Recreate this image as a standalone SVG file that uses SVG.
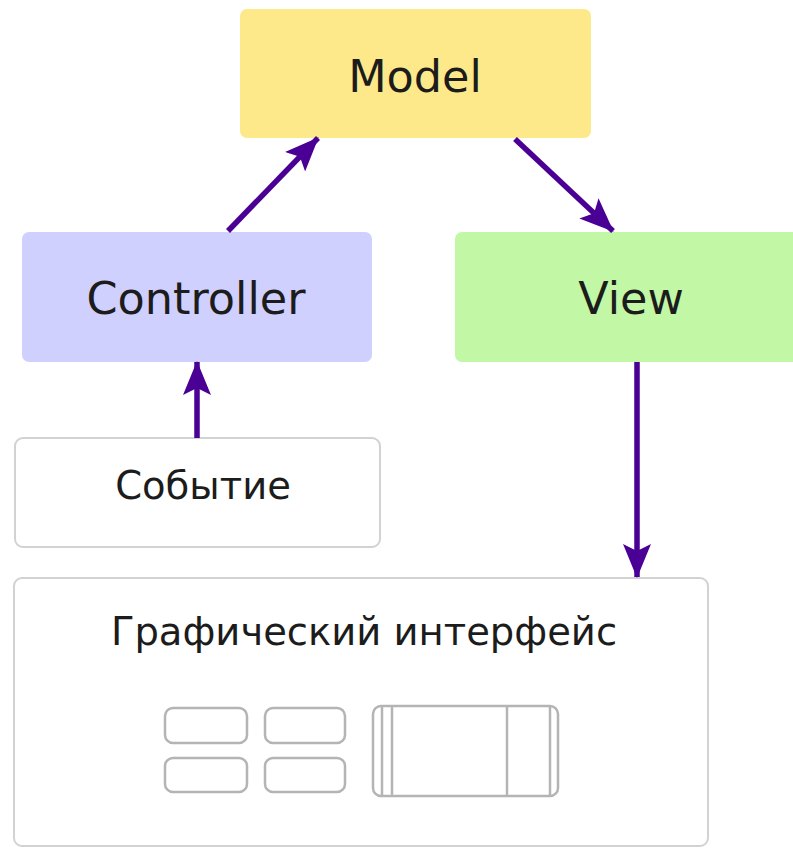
<svg xmlns="http://www.w3.org/2000/svg" width="793" height="848" viewBox="0 0 793 848">
<style>
.lbl{font-family:"DejaVu Sans","Liberation Sans",sans-serif;fill:#1c1c1c;text-anchor:middle}
.big{font-size:44.5px}
.mid{font-size:38.5px}
.plain{fill:#ffffff;stroke:#d2d2d2;stroke-width:2}
.wid{fill:#ffffff;stroke:#b4b4b4;stroke-width:2.5}
.wl{stroke:#b4b4b4;stroke-width:2.5;fill:none}
.conn{stroke:#4b0095;stroke-width:5.5;fill:none}
</style>
<defs>
<marker id="ah" viewBox="0 0 34 28" refX="33" refY="14" markerWidth="34" markerHeight="28" markerUnits="userSpaceOnUse" orient="auto">
<path d="M0,0 L34,14 L0,28 L7,14 Z" fill="#4b0095"/>
</marker>
</defs>
<g id="model">
<rect x="240" y="9" width="351" height="129" rx="7" fill="#fee98a"/>
<text class="lbl big" x="415" y="92">Model</text>
</g>
<g id="controller">
<rect x="22" y="232" width="350" height="130" rx="7" fill="#d0d0fe"/>
<text class="lbl big" x="196" y="314">Controller</text>
</g>
<g id="view">
<rect x="455" y="232" width="350" height="130" rx="7" fill="#c2f7a5"/>
<text class="lbl big" x="631" y="314">View</text>
</g>
<g id="event">
<rect class="plain" x="15" y="438" width="365" height="109" rx="8"/>
<text class="lbl mid" x="203" y="499">Событие</text>
</g>
<g id="gui">
<rect class="plain" x="14" y="578" width="694" height="268" rx="8"/>
<text class="lbl mid" x="364" y="645">Графический интерфейс</text>
<rect class="wid" x="165" y="708" width="82" height="35" rx="8"/>
<rect class="wid" x="265" y="708" width="80" height="35" rx="8"/>
<rect class="wid" x="165" y="758" width="82" height="34" rx="8"/>
<rect class="wid" x="265" y="758" width="80" height="34" rx="8"/>
<rect class="wid" x="373" y="706" width="185" height="90" rx="8"/>
<line class="wl" x1="382" y1="707" x2="382" y2="795"/>
<line class="wl" x1="392" y1="707" x2="392" y2="795"/>
<line class="wl" x1="507" y1="707" x2="507" y2="795"/>
<line class="wl" x1="550" y1="707" x2="550" y2="795"/>
</g>
<g id="connectors">
<line class="conn" x1="228" y1="231" x2="318" y2="138" marker-end="url(#ah)"/>
<line class="conn" x1="515" y1="139" x2="613" y2="231" marker-end="url(#ah)"/>
<line class="conn" x1="197" y1="438" x2="197" y2="362" marker-end="url(#ah)"/>
<line class="conn" x1="637" y1="362" x2="637" y2="577" marker-end="url(#ah)"/>
</g>
</svg>
